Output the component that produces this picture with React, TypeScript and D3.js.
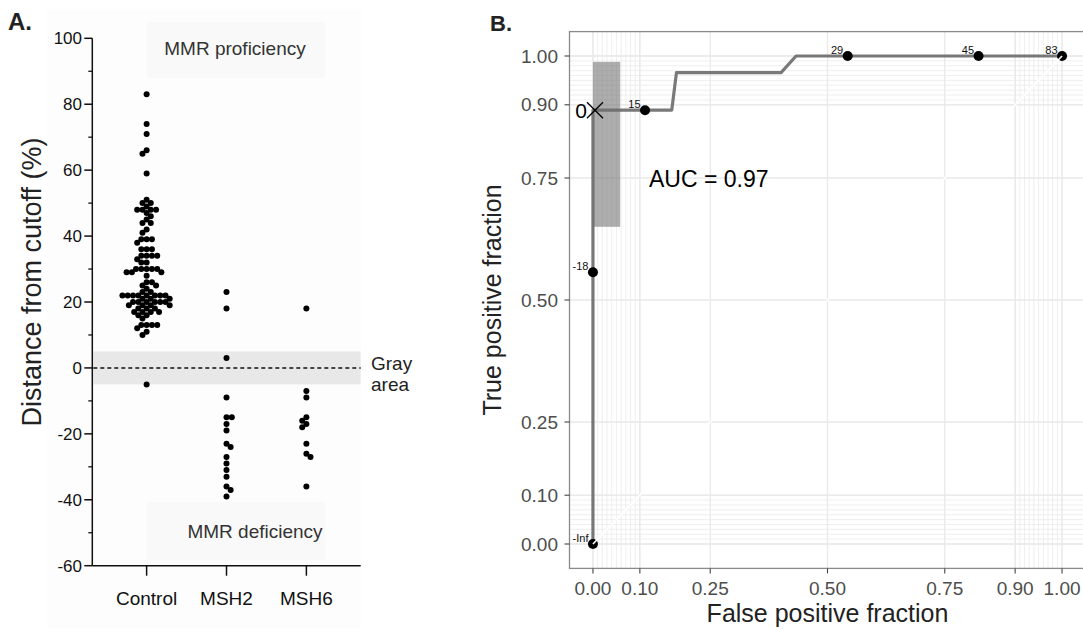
import React from "react";
import * as d3 from "d3";

// Panel A data: distance from cutoff (%)
const groups = ["Control", "MSH2", "MSH6"];
const controlValues = [
  83, 74, 71, 66, 65, 59, 51, 50, 50, 49, 48, 48, 48, 48, 47, 46, 45, 44, 44, 42, 41,
  39, 39, 39, 38, 36, 36, 36, 34, 34, 34, 34, 33, 32, 32, 30, 30, 30, 30, 30, 29, 29, 29,
  28, 26, 26, 25, 25, 24, 23, 23, 22, 22, 22, 22, 22, 22, 22, 22, 21, 21, 21,
  20, 20, 20, 20, 20, 20, 19, 19, 19, 19, 18, 18, 18, 17, 17, 17, 17, 16, 16, 15,
  13, 13, 13, 13, 12, 11, 10, -5,
];
const msh2Values = [23, 18, 3, -9, -15, -15, -17, -19, -23, -24, -27, -29, -31, -33, -36, -37, -39];
const msh6Values = [18, -7, -9, -15, -16, -17, -18, -23, -26, -27, -36];
const yTicksA = [-60, -40, -20, 0, 20, 40, 60, 80, 100];
const yMinorA = [-50, -30, -10, 10, 30, 50, 70, 90];

// Panel B data: ROC curve
const rocFpf = [0, 0, 0, 0.111, 0.168, 0.178, 0.401, 0.433, 0.543, 0.822, 1];
const rocTpf = [0, 0.557, 0.889, 0.889, 0.889, 0.966, 0.966, 1, 1, 1, 1];
const cutLabels = ["-Inf", "-18", "0", "15", "29", "45", "83"];
const cutFpf = [0, 0, 0, 0.111, 0.543, 0.822, 1];
const cutTpf = [0, 0.557, 0.889, 0.889, 1, 1, 1];
const ciFpf = [0, 0.058];
const ciTpf = [0.65, 0.988];
const breaksB = [0, 0.1, 0.25, 0.5, 0.75, 0.9, 1];
const breakLabelsB = ["0.00", "0.10", "0.25", "0.50", "0.75", "0.90", "1.00"];
const minorB = [...d3.range(0, 0.1001, 0.01), ...d3.range(0.9, 1.0001, 0.01)];

const FONT = "'Liberation Sans', Arial, Helvetica, sans-serif";

// simple beeswarm: place each dot as close to the centre as it can go
function swarm(values: number[], y: (v: number) => number, D: number) {
  const pts = values.map((v) => ({ v, py: y(v), dx: 0 }));
  const order = [...pts].sort((a, b) => b.v - a.v);
  const placed: typeof pts = [];
  order.forEach((p, i) => {
    const iv: number[][] = [];
    placed.forEach((q) => {
      const dy = Math.abs(q.py - p.py);
      if (dy < D) {
        const w = Math.sqrt(D * D - dy * dy);
        iv.push([q.dx - w, q.dx + w]);
      }
    });
    const cands = [0];
    iv.forEach(([a, b]) => cands.push(a, b));
    const ok = cands.filter((c) => iv.every(([a, b]) => c <= a + 1e-6 || c >= b - 1e-6));
    const sgn = i % 2 ? 1 : -1;
    ok.sort((a, b) => Math.abs(a) - Math.abs(b) || sgn * (b - a));
    p.dx = ok[0];
    placed.push(p);
  });
  return pts;
}

function PanelA() {
  const y = d3.scaleLinear().domain([-60, 100]).range([565.7, 38.3]);
  const x = d3.scalePoint<string>().domain(groups).range([92.3, 360.7]).padding(0.68);
  const series = [controlValues, msh2Values, msh6Values];
  const x0 = 92.3, x1 = 360.7, y0 = y(-60);

  return (
    <g fontFamily={FONT}>
      <rect x={47} y={10} width={314} height={618} fill="#fdfdfd" />
      <rect x={147} y={22} width={178} height={56} fill="#f9f9f9" />
      <rect x={147} y={502} width={178} height={58} fill="#f9f9f9" />
      <text x={8} y={30} fontSize={24} fontWeight="bold" fill="#222">A.</text>

      {/* gray area */}
      <rect x={x0 + 1} y={y(5)} width={x1 - x0 - 1} height={y(-5) - y(5)} fill="#e8e8e8" />
      <line x1={x0 + 1} x2={x1} y1={y(0)} y2={y(0)} stroke="#111" strokeWidth={1.4} strokeDasharray="4,3" />

      {/* axes */}
      <line x1={x0} x2={x0} y1={y(100)} y2={y0} stroke="#111" strokeWidth={1.5} />
      <line x1={x0} x2={x1} y1={y0} y2={y0} stroke="#111" strokeWidth={1.5} />
      {yTicksA.map((t) => (
        <g key={t}>
          <line x1={x0 - 8} x2={x0} y1={y(t)} y2={y(t)} stroke="#111" strokeWidth={1.5} />
          <text x={82} y={y(t)} dy="0.35em" textAnchor="end" fontSize={17} fill="#111">{t}</text>
        </g>
      ))}
      {yMinorA.map((t) => (
        <line key={t} x1={x0 - 4} x2={x0} y1={y(t)} y2={y(t)} stroke="#111" strokeWidth={1.3} />
      ))}
      {groups.map((g) => (
        <g key={g}>
          <line x1={x(g)} x2={x(g)} y1={y0} y2={y0 + 10} stroke="#111" strokeWidth={1.5} />
          <text x={x(g)} y={605} textAnchor="middle" fontSize={19} fill="#111">{g}</text>
        </g>
      ))}

      {/* dots */}
      {series.map((vals, gi) =>
        swarm(vals, y, 5.3).map((p, i) => (
          <circle key={gi + "-" + i} cx={(x(groups[gi]) as number) + p.dx} cy={p.py} r={3} fill="#000" />
        ))
      )}

      <text x={235} y={55} textAnchor="middle" fontSize={19} fill="#333">MMR proficiency</text>
      <text x={255} y={538} textAnchor="middle" fontSize={19} fill="#333">MMR deficiency</text>
      <text x={371} y={369.5} fontSize={19} fill="#222">Gray</text>
      <text x={371} y={391} fontSize={19} fill="#222">area</text>

      <text transform="translate(41,282) rotate(-90)" textAnchor="middle" fontSize={27} fill="#222">
        Distance from cutoff (%)
      </text>
    </g>
  );
}

function PanelB() {
  const x = d3.scaleLinear().domain([-0.05, 1.05]).range([569.5, 1085.5]);
  const y = d3.scaleLinear().domain([-0.05, 1.05]).range([568.4, 31.6]);
  const [px0, px1] = x.range();
  const [py0, py1] = y.range();
  const line = d3.line<number>().x((d, i) => x(rocFpf[i])).y((d) => y(d));
  const zero = cutLabels.indexOf("0");

  return (
    <g fontFamily={FONT}>
      <defs>
        <clipPath id="panelB">
          <rect x={px0} y={py1} width={px1 - px0} height={py0 - py1} />
        </clipPath>
      </defs>
      <text x={490} y={31} fontSize={22} fontWeight="bold" fill="#222">B.</text>

      <g clipPath="url(#panelB)">
        <rect x={px0} y={py1} width={px1 - px0} height={py0 - py1} fill="#fff" />
        {minorB.map((t, i) => (
          <g key={"m" + i}>
            <line x1={x(t)} x2={x(t)} y1={py1} y2={py0} stroke="#e8e8e8" strokeWidth={0.7} />
            <line x1={px0} x2={px1} y1={y(t)} y2={y(t)} stroke="#e8e8e8" strokeWidth={0.7} />
          </g>
        ))}
        {breaksB.map((t) => (
          <g key={"M" + t}>
            <line x1={x(t)} x2={x(t)} y1={py1} y2={py0} stroke="#e9e9e9" strokeWidth={1.3} />
            <line x1={px0} x2={px1} y1={y(t)} y2={y(t)} stroke="#e9e9e9" strokeWidth={1.3} />
          </g>
        ))}

        {/* confidence box at the optimal cutoff */}
        <rect x={x(ciFpf[0])} y={y(ciTpf[1])} width={x(ciFpf[1]) - x(ciFpf[0])}
          height={y(ciTpf[0]) - y(ciTpf[1])} fill="#777" opacity={0.6} />

        <path d={line(rocTpf) as string} fill="none" stroke="#6a6a6a" strokeWidth={3.2}
          strokeLinejoin="round" opacity={0.9} />

        {cutLabels.map((lab, i) =>
          i === zero ? null : (
            <g key={lab}>
              <circle cx={x(cutFpf[i])} cy={y(cutTpf[i])} r={5} fill="#000" />
              <text x={x(cutFpf[i]) - 4.5} y={y(cutTpf[i]) - 2} textAnchor="end" fontSize={11} fill="#111">{lab}</text>
            </g>
          )
        )}
        <g stroke="#000" strokeWidth={1.3}>
          <line x1={x(cutFpf[zero]) - 6} x2={x(cutFpf[zero]) + 10} y1={y(cutTpf[zero]) - 8} y2={y(cutTpf[zero]) + 8} />
          <line x1={x(cutFpf[zero]) - 6} x2={x(cutFpf[zero]) + 10} y1={y(cutTpf[zero]) + 8} y2={y(cutTpf[zero]) - 8} />
        </g>
        <text x={x(cutFpf[zero]) - 6} y={y(cutTpf[zero]) + 7.5} textAnchor="end" fontSize={21} fill="#000">0</text>

        {/* reference diagonal */}
        <line x1={x(0)} y1={y(0)} x2={x(1)} y2={y(1)} stroke="#fff" strokeWidth={1.6} />

        <text x={649} y={187} fontSize={23} fill="#000">AUC = 0.97</text>
      </g>
      <rect x={px0} y={py1} width={px1 - px0} height={py0 - py1} fill="none" stroke="#8a8a8a" strokeWidth={1.3} />

      {breaksB.map((t, i) => (
        <g key={"t" + t}>
          <line x1={px0 - 5} x2={px0} y1={y(t)} y2={y(t)} stroke="#444" strokeWidth={1.1} />
          <text x={558} y={y(t)} dy="0.35em" textAnchor="end" fontSize={19} fill="#4d4d4d">{breakLabelsB[i]}</text>
          <line x1={x(t)} x2={x(t)} y1={py0} y2={py0 + 5} stroke="#444" strokeWidth={1.1} />
          <text x={x(t)} y={595} textAnchor="middle" fontSize={19} fill="#4d4d4d">{breakLabelsB[i]}</text>
        </g>
      ))}

      <text x={x(0.5)} y={622} textAnchor="middle" fontSize={25} fill="#222">False positive fraction</text>
      <text transform={`translate(501,${y(0.5)}) rotate(-90)`} textAnchor="middle" fontSize={25} fill="#222">
        True positive fraction
      </text>
    </g>
  );
}

export default function App() {
  return (
    <div style={{ position: "absolute", left: 0, top: 0 }}>
      <svg width={1083} height={629} style={{ display: "block", background: "#fff" }}>
        <PanelA />
        <PanelB />
      </svg>
    </div>
  );
}
